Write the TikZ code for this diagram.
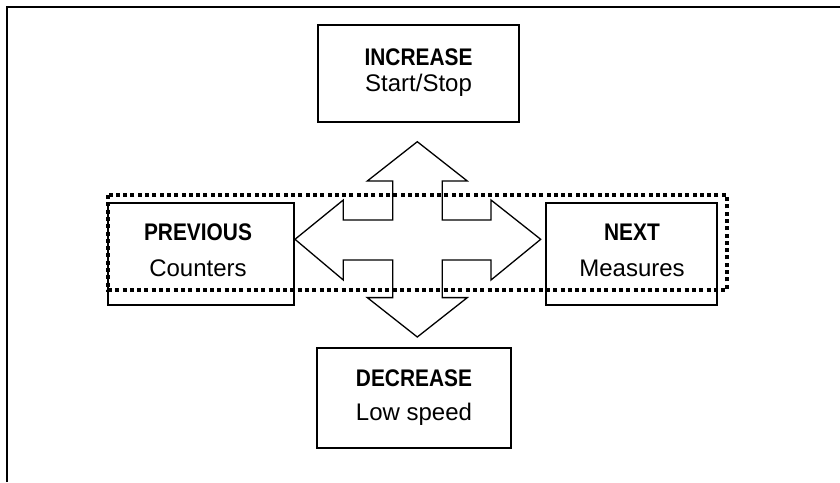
\documentclass[tikz,border=0pt]{standalone}
\usepackage{fontspec}
\setmainfont{Liberation Sans}
\newfontfamily\cbf{Liberation Sans Bold}[FakeStretch=0.87]
\newfontfamily\creg{Liberation Sans}[FakeStretch=1.0]
\begin{document}
\begin{tikzpicture}[x=1pt,y=-1pt,
  keybox/.style={draw,line width=1.8pt,minimum width=#1,inner sep=0pt,align=center},
  boldtext/.style={font=\fontsize{24}{28}\cbf},
  regtext/.style={font=\fontsize{24}{28}\creg},
  crossline/.style={line width=1.3pt,line join=miter},
  dotframe/.style={line width=4.2pt,dash pattern=on 4pt off 3.3pt}]
\useasboundingbox (0,0) rectangle (840,482);
\draw[line width=2.4pt] (7,482) -- (7,7) -- (840,7);
% boxes
\node[keybox=201pt,minimum height=97pt] (inc) at (418.5,73.5) {};
\node[keybox=194pt,minimum height=100pt] (dec) at (414,398) {};
\node[keybox=186pt,minimum height=102pt] (prev) at (201,254) {};
\node[keybox=171pt,minimum height=102pt] (next) at (631.5,254) {};
% texts
\node[boldtext] (incA) at (418.5,57) {INCREASE};
\node[regtext] (incB) at (418.5,85) {Start/Stop};
\node[boldtext] (decA) at (414,378) {DECREASE};
\node[regtext] (decB) at (414,414) {Low speed};
\node[boldtext] (prevA) at (198,232) {PREVIOUS};
\node[regtext] (prevB) at (198,268) {Counters};
\node[boldtext] (nextA) at (632,232) {NEXT};
\node[regtext] (nextB) at (632,268) {Measures};
% cross arrow
\draw[crossline] (417.3,141.7) -- (467.3,181) -- (442.3,181) -- (442.3,220) -- (491,220) -- (491,200)
  -- (540.7,239.3) -- (491,280) -- (491,260) -- (442.3,260) -- (442.3,297.6) -- (467.3,297.6)
  -- (417.3,337) -- (367.3,297.6) -- (392.7,297.6) -- (392.7,260) -- (343.3,260) -- (343.3,280)
  -- (295,239.3) -- (343.3,200) -- (343.3,220) -- (392.7,220) -- (392.7,181) -- (367.3,181) -- cycle;
% dotted frame
\draw[dotframe] (108,195) rectangle (727,290);
\end{tikzpicture}
\end{document}
